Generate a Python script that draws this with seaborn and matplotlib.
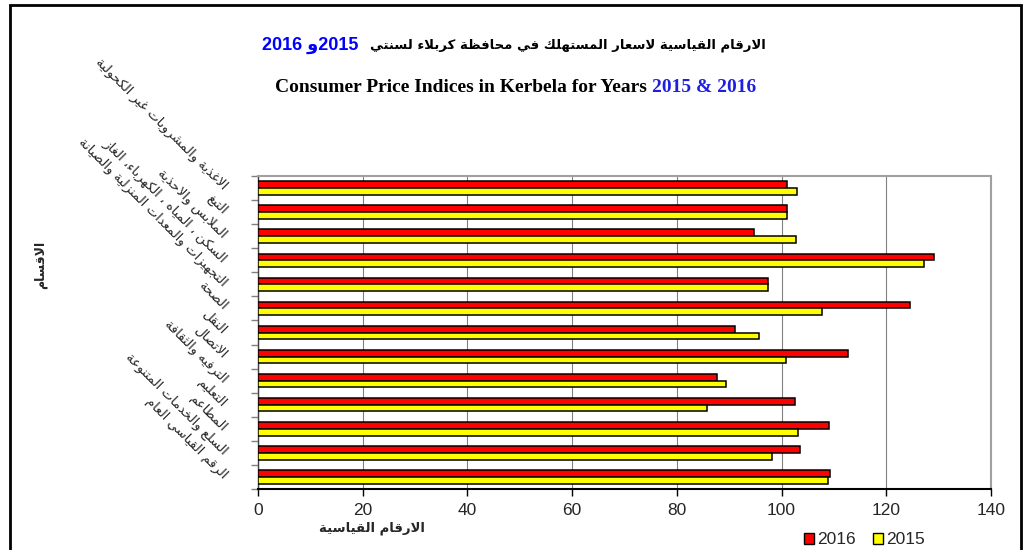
import numpy as np
import pandas as pd
import matplotlib
matplotlib.use("Agg")
import matplotlib.pyplot as plt
from matplotlib.patches import Patch, Rectangle
import seaborn as sns

# ---------------- data ----------------
categories = [
    "الاغذية والمشروبات غير الكحولية",
    "التبغ",
    "الملابس والاحذية",
    "السكن ، المياه ، الكهرباء، الغاز",
    "التجهيزات والمعدات المنزلية والصيانة",
    "الصحة",
    "النقل",
    "الاتصال",
    "الترفيه والثقافة",
    "التعليم",
    "المطاعم",
    "السلع والخدمات المتنوعة",
    "الرقم القياسي العام",
]
values_2016 = [101.0, 101.1, 94.7, 129.2, 97.5, 124.6, 91.1, 112.7, 87.7, 102.5, 109.0, 103.5, 109.2]
values_2015 = [103.0, 101.0, 102.7, 127.2, 97.4, 107.8, 95.6, 100.8, 89.3, 85.8, 103.1, 98.1, 108.8]
series_names = ["2016", "2015"]
x_ticks = [0, 20, 40, 60, 80, 100, 120, 140]

title_ar = "الارقام القياسية لاسعار المستهلك في محافظة كربلاء لسنتي"
title_en = "Consumer Price Indices in Kerbela for Years "
title_years = "2015 & 2016"
xlabel_ar = "الارقام القياسية"
ylabel_ar = "الاقسام"

# ------------- minimal Arabic shaping (presentation forms) -------------
DUAL = {'ئ': 0xFE89, 'ب': 0xFE8F, 'ت': 0xFE95, 'ث': 0xFE99, 'ج': 0xFE9D, 'ح': 0xFEA1,
        'خ': 0xFEA5, 'س': 0xFEB1, 'ش': 0xFEB5, 'ص': 0xFEB9, 'ض': 0xFEBD, 'ط': 0xFEC1,
        'ظ': 0xFEC5, 'ع': 0xFEC9, 'غ': 0xFECD, 'ف': 0xFED1, 'ق': 0xFED5, 'ك': 0xFED9,
        'ل': 0xFEDD, 'م': 0xFEE1, 'ن': 0xFEE5, 'ه': 0xFEE9, 'ي': 0xFEF1}
RIGHT = {'آ': 0xFE81, 'أ': 0xFE83, 'ؤ': 0xFE85, 'إ': 0xFE87, 'ا': 0xFE8D, 'ة': 0xFE93,
         'د': 0xFEA9, 'ذ': 0xFEAB, 'ر': 0xFEAD, 'ز': 0xFEAF, 'و': 0xFEED, 'ى': 0xFEEF}
LAMALEF = {'آ': (0xFEF5, 0xFEF6), 'أ': (0xFEF7, 0xFEF8), 'إ': (0xFEF9, 0xFEFA), 'ا': (0xFEFB, 0xFEFC)}


def shape(text):
    toks = []
    i = 0
    while i < len(text):
        c = text[i]
        if c == 'ل' and i + 1 < len(text) and text[i + 1] in LAMALEF:
            toks.append(('LA', text[i + 1]))
            i += 2
        else:
            toks.append(('C', c))
            i += 1

    def jn(t):
        return t[0] == 'C' and t[1] in DUAL

    def jp(t):
        return t[0] == 'LA' or t[1] in DUAL or t[1] in RIGHT

    out = []
    for k, t in enumerate(toks):
        p = k > 0 and jn(toks[k - 1]) and jp(t)
        n = k + 1 < len(toks) and jn(t) and jp(toks[k + 1])
        if t[0] == 'LA':
            iso, fin = LAMALEF[t[1]]
            out.append(chr(fin if p else iso))
        elif t[1] in DUAL:
            b = DUAL[t[1]]
            out.append(chr(b + (3 if (p and n) else 1 if p else 2 if n else 0)))
        elif t[1] in RIGHT:
            b = RIGHT[t[1]]
            out.append(chr(b + 1 if p else b))
        else:
            out.append(t[1])
    return ''.join(reversed(out))


# ---------------- figure ----------------
sns.set_theme(style="white")
plt.rcParams['font.family'] = ['Liberation Sans', 'DejaVu Sans']

W, H = 1027, 550
fig = plt.figure(figsize=(W / 100, H / 100), dpi=100)
fig.patch.set_facecolor("white")
ax = fig.add_axes([258 / W, 1 - 489 / H, (991 - 258) / W, (489 - 176) / H])

df = pd.DataFrame({
    "cat": categories * 2,
    "value": values_2016 + values_2015,
    "year": [series_names[0]] * len(categories) + [series_names[1]] * len(categories),
})

sns.barplot(data=df, y="cat", x="value", hue="year", hue_order=series_names,
            order=categories, orient="h", palette=["#FF0000", "#FFFF00"],
            width=0.56, edgecolor="black", linewidth=1.1, saturation=1,
            legend=False, ax=ax, zorder=3)

ax.set_xlim(0, 140)
ax.set_ylim(len(categories) - 0.5, -0.5)
ax.set_xticks(x_ticks)
ax.set_xticklabels([str(v) for v in x_ticks], fontsize=12.5, family=['Liberation Sans'])
ax.tick_params(axis='x', length=5, width=1, color='black', pad=5, direction='out', bottom=True)
ax.grid(axis='x', color='#808080', linewidth=0.8, zorder=0)
ax.grid(axis='y', visible=False)

# y ticks at category boundaries, labels at centres
ax.set_yticks(np.arange(-0.5, len(categories), 1.0))
ax.set_yticklabels([])
ax.set_yticks(np.arange(len(categories)), minor=True)
ax.set_yticklabels([shape(c) for c in categories], minor=True, rotation=-45,
                   ha='right', va='center', rotation_mode='anchor',
                   fontsize=9.5, family=['DejaVu Sans'])
ax.tick_params(axis='y', which='major', length=5, width=1, color='#808080', direction='out', left=True)
ax.tick_params(axis='y', which='minor', length=0, pad=24, left=True)
ax.set_xlabel("")
ax.set_ylabel("")

for s in ['top', 'right']:
    ax.spines[s].set_color('#a0a0a0')
    ax.spines[s].set_linewidth(1.5)
ax.spines['left'].set_color('#404040')
ax.spines['left'].set_linewidth(1.0)
ax.spines['bottom'].set_color('black')
ax.spines['bottom'].set_linewidth(1.5)

# outer frame
fig.add_artist(Rectangle((10 / W, -0.05), (1021 - 10) / W, 1.05 - 5 / H,
                         transform=fig.transFigure, fill=False,
                         edgecolor='black', linewidth=2))

fig.canvas.draw()
r = fig.canvas.get_renderer()

# Title line 1 (blue years + Arabic)
t_y = fig.text(262 / W, 1 - 45 / H, "2016 " + shape("و") + "2015", color='#0000FF',
               fontsize=13, fontweight='bold', family=['Liberation Sans', 'DejaVu Sans'],
               ha='left', va='center')
bb = t_y.get_window_extent(r)
fig.text((bb.x1 + 12) / W, 1 - 45 / H, shape(title_ar), color='black', fontsize=9.5,
         fontweight='bold', family=['DejaVu Sans'], ha='left', va='center')

# Title line 2
t_en = fig.text(275 / W, 1 - 88 / H, title_en, color='black', fontsize=14,
                fontweight='bold', family=['Liberation Serif'], ha='left', va='center')
bb = t_en.get_window_extent(r)
fig.text(bb.x1 / W, 1 - 88 / H, title_years, color='#1F1FE0', fontsize=14,
         fontweight='bold', family=['Liberation Serif'], ha='left', va='center')

# axis labels
fig.text(372 / W, 1 - 528 / H, shape(xlabel_ar), fontsize=9.5, fontweight='bold',
         family=['DejaVu Sans'], ha='center', va='center')
fig.text(40 / W, 1 - 265 / H, shape(ylabel_ar), fontsize=9, fontweight='bold',
         family=['DejaVu Sans'], ha='center', va='center', rotation=90)

# legend
handles = [Patch(facecolor="#FF0000", edgecolor="black", linewidth=1.0, label=series_names[0]),
           Patch(facecolor="#FFFF00", edgecolor="black", linewidth=1.0, label=series_names[1])]
fig.legend(handles=handles, loc='center', bbox_to_anchor=(864 / W, 1 - 540 / H), ncol=2,
           frameon=False, handlelength=0.6, handleheight=0.6, handletextpad=0.15,
           columnspacing=1.0, prop={'family': 'Liberation Sans', 'size': 12.5})

fig.savefig("out.png", dpi=100, facecolor="white")
